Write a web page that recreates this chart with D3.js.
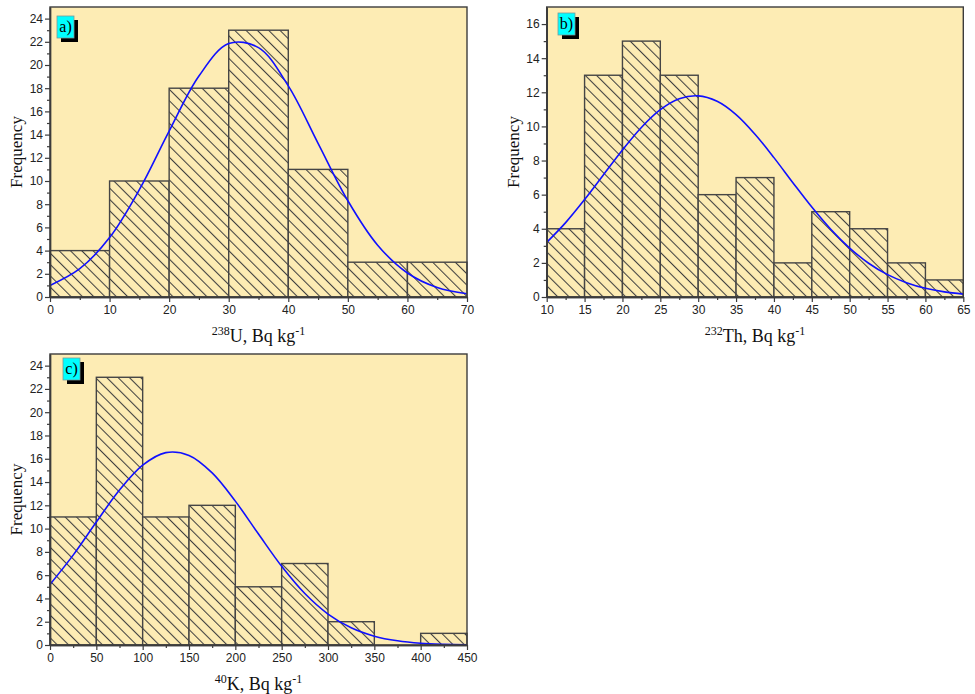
<!DOCTYPE html>
<html>
<head>
<meta charset="utf-8">
<script src="https://cdn.jsdelivr.net/npm/d3@7"></script>
<style>
  html, body { margin: 0; padding: 0; background: #ffffff; }
  svg { display: block; }
</style>
</head>
<body>
<svg id="chart" width="975" height="694"></svg>
<script>
// ---------- DATA ----------
// Panel a) 238U
const uBinEdges = [0, 10, 20, 30, 40, 50, 60, 70];
const uCounts   = [4, 10, 18, 23, 11, 3, 3];
const uFitX     = [0, 5, 10, 15, 20, 25, 30, 35, 40, 45, 50, 55, 60, 65, 70];
const uFitY     = [1.0, 2.44, 5.12, 9.25, 14.3, 19.05, 21.85, 21.5, 18.2, 13.25, 8.3, 4.47, 2.07, 0.82, 0.28];
const uXTicks   = [0, 10, 20, 30, 40, 50, 60, 70];
const uYTicks   = [0, 2, 4, 6, 8, 10, 12, 14, 16, 18, 20, 22, 24];

// Panel b) 232Th
const thBinEdges = [10, 15, 20, 25, 30, 35, 40, 45, 50, 55, 60, 65];
const thCounts   = [4, 13, 15, 13, 6, 7, 2, 5, 4, 2, 1];
const thFitX     = [10, 12.5, 15, 17.5, 20, 22.5, 25, 27.5, 30, 32.5, 35, 37.5, 40, 42.5, 45, 47.5, 50, 52.5, 55, 57.5, 60, 62.5, 65];
const thFitY     = [3.2, 4.36, 5.71, 7.17, 8.62, 9.94, 10.98, 11.62, 11.79, 11.47, 10.69, 9.54, 8.17, 6.70, 5.27, 3.97, 2.87, 1.98, 1.31, 0.84, 0.51, 0.30, 0.17];
const thXTicks   = [10, 15, 20, 25, 30, 35, 40, 45, 50, 55, 60, 65];
const thYTicks   = [0, 2, 4, 6, 8, 10, 12, 14, 16];

// Panel c) 40K
const kBinEdges = [0, 50, 100, 150, 200, 250, 300, 350, 400, 450];
const kCounts   = [11, 23, 11, 12, 5, 7, 2, 0, 1];
const kFitX     = [0, 25, 50, 75, 100, 125, 150, 175, 200, 225, 250, 275, 300, 325, 350, 375, 400, 425, 450];
const kFitY     = [5.2, 7.72, 10.56, 13.31, 15.45, 16.53, 16.29, 14.79, 12.36, 9.53, 6.76, 4.42, 2.66, 1.48, 0.76, 0.36, 0.15, 0.06, 0.02];
const kXTicks   = [0, 50, 100, 150, 200, 250, 300, 350, 400, 450];
const kYTicks   = [0, 2, 4, 6, 8, 10, 12, 14, 16, 18, 20, 22, 24];

const panelLabels = ["a)", "b)", "c)"];
const axisTitles = [
  { sup: "238", main: "U, Bq kg", sup2: "-1" },
  { sup: "232", main: "Th, Bq kg", sup2: "-1" },
  { sup: "40",  main: "K, Bq kg", sup2: "-1" }
];
const yTitle = "Frequency";

// ---------- STYLE ----------
const bgColor = "#FDECB4";
const frameColor = "#3c3c3c";
const barStroke = "#454545";
const hatchColor = "#404040";
const curveColor = "#1010ff";
const serif = "'Liberation Serif', 'Times New Roman', serif";
const sans = "'Liberation Sans', Arial, sans-serif";

const svg = d3.select("#chart");
svg.append("rect").attr("width", 975).attr("height", 694).attr("fill", "#ffffff");

const defs = svg.append("defs");
const pat = defs.append("pattern")
  .attr("id", "hatch")
  .attr("patternUnits", "userSpaceOnUse")
  .attr("width", 8).attr("height", 8)
  .attr("patternTransform", "rotate(-45)");
pat.append("rect").attr("width", 8).attr("height", 8).attr("fill", bgColor);
pat.append("line").attr("x1", 0.5).attr("y1", 0).attr("x2", 0.5).attr("y2", 8)
  .attr("stroke", hatchColor).attr("stroke-width", 1.1);

function drawPanel(cfg) {
  const { left, right, top, bottom, xDomain, yDomain, binEdges, counts,
          fitX, fitY, xTicks, yTicks, xMinor, yMinor, label, title, labelBox } = cfg;
  const x = d3.scaleLinear().domain(xDomain).range([left, right]);
  const y = d3.scaleLinear().domain(yDomain).range([bottom, top]);
  const g = svg.append("g");

  // background
  g.append("rect").attr("x", left).attr("y", top)
    .attr("width", right - left).attr("height", bottom - top)
    .attr("fill", bgColor);

  // bars
  const bins = counts.map((c, i) => ({ x0: binEdges[i], x1: binEdges[i + 1], c }));
  g.selectAll("rect.bar").data(bins.filter(d => d.c > 0)).join("rect")
    .attr("class", "bar")
    .attr("x", d => x(d.x0))
    .attr("y", d => y(d.c))
    .attr("width", d => x(d.x1) - x(d.x0))
    .attr("height", d => y(0) - y(d.c))
    .attr("fill", "url(#hatch)")
    .attr("stroke", barStroke)
    .attr("stroke-width", 1.4);

  // fit curve
  const pts = fitX.map((v, i) => [v, fitY[i]]);
  g.append("path")
    .datum(pts)
    .attr("d", d3.line().x(d => x(d[0])).y(d => y(d[1])).curve(d3.curveCatmullRom.alpha(0.5)))
    .attr("fill", "none")
    .attr("stroke", curveColor)
    .attr("stroke-width", 1.6);

  // frame
  g.append("rect").attr("x", left).attr("y", top)
    .attr("width", right - left).attr("height", bottom - top)
    .attr("fill", "none").attr("stroke", frameColor).attr("stroke-width", 1.4);

  // axes
  const xAxis = d3.axisBottom(x).tickValues(xTicks).tickSize(5).tickSizeOuter(0).tickPadding(3);
  const xAxisMinor = d3.axisBottom(x).tickValues(xMinor).tickSize(3).tickSizeOuter(0).tickFormat("");
  const yAxis = d3.axisLeft(y).tickValues(yTicks).tickSize(5).tickSizeOuter(0).tickPadding(2);
  const yAxisMinor = d3.axisLeft(y).tickValues(yMinor).tickSize(3).tickSizeOuter(0).tickFormat("");

  function styleAxis(sel) {
    sel.select(".domain").attr("stroke", frameColor).attr("stroke-width", 1.4);
    sel.selectAll(".tick line").attr("stroke", frameColor).attr("stroke-width", 1.2);
    sel.selectAll(".tick text").attr("fill", "#222").style("font-family", sans).style("font-size", "12px");
  }
  g.append("g").attr("transform", `translate(0,${bottom})`).call(xAxisMinor).call(styleAxis);
  g.append("g").attr("transform", `translate(0,${bottom})`).call(xAxis).call(styleAxis);
  g.append("g").attr("transform", `translate(${left},0)`).call(yAxisMinor).call(styleAxis);
  g.append("g").attr("transform", `translate(${left},0)`).call(yAxis).call(styleAxis);

  // y title
  g.append("text")
    .attr("transform", `translate(${left - 28},${(top + bottom) / 2}) rotate(-90)`)
    .attr("text-anchor", "middle")
    .style("font-family", serif).style("font-size", "17px").attr("fill", "#111")
    .text(yTitle);

  // x title
  const t = g.append("text")
    .attr("x", (left + right) / 2).attr("y", bottom + 45)
    .attr("text-anchor", "middle")
    .style("font-family", serif).style("font-size", "18px").attr("fill", "#111");
  t.append("tspan").style("font-size", "12px").attr("dy", -7).text(title.sup);
  t.append("tspan").attr("dy", 7).text(title.main);
  t.append("tspan").style("font-size", "12px").attr("dy", -7).text(title.sup2);

  // panel label box
  const bx = labelBox[0], by = labelBox[1], bw = 17, bh = 22;
  g.append("rect").attr("x", bx + 4).attr("y", by + 4).attr("width", bw).attr("height", bh).attr("fill", "#000");
  g.append("rect").attr("x", bx).attr("y", by).attr("width", bw).attr("height", bh)
    .attr("fill", "#00ffff").attr("stroke", "#7a9a9a").attr("stroke-width", 0.8);
  g.append("text").attr("x", bx + bw / 2).attr("y", by + 16)
    .attr("text-anchor", "middle")
    .style("font-family", serif).style("font-size", "16px").attr("fill", "#000")
    .text(label);
}

function odd(max) { return d3.range(1, max, 2); }

drawPanel({
  left: 50, right: 467, top: 7, bottom: 297,
  xDomain: [0, 70], yDomain: [0, 25],
  binEdges: uBinEdges, counts: uCounts, fitX: uFitX, fitY: uFitY,
  xTicks: uXTicks, yTicks: uYTicks,
  xMinor: d3.range(5, 70, 10), yMinor: odd(25),
  label: panelLabels[0], title: axisTitles[0], labelBox: [57, 16]
});

drawPanel({
  left: 546.7, right: 963.3, top: 7, bottom: 297,
  xDomain: [10, 65], yDomain: [0, 17],
  binEdges: thBinEdges, counts: thCounts, fitX: thFitX, fitY: thFitY,
  xTicks: thXTicks, yTicks: thYTicks,
  xMinor: d3.range(12.5, 65, 5), yMinor: odd(17),
  label: panelLabels[1], title: axisTitles[1], labelBox: [558, 13]
});

drawPanel({
  left: 50, right: 467, top: 354, bottom: 645,
  xDomain: [0, 450], yDomain: [0, 25],
  binEdges: kBinEdges, counts: kCounts, fitX: kFitX, fitY: kFitY,
  xTicks: kXTicks, yTicks: kYTicks,
  xMinor: d3.range(25, 450, 50), yMinor: odd(25),
  label: panelLabels[2], title: axisTitles[2], labelBox: [63, 358]
});
</script>
</body>
</html>
